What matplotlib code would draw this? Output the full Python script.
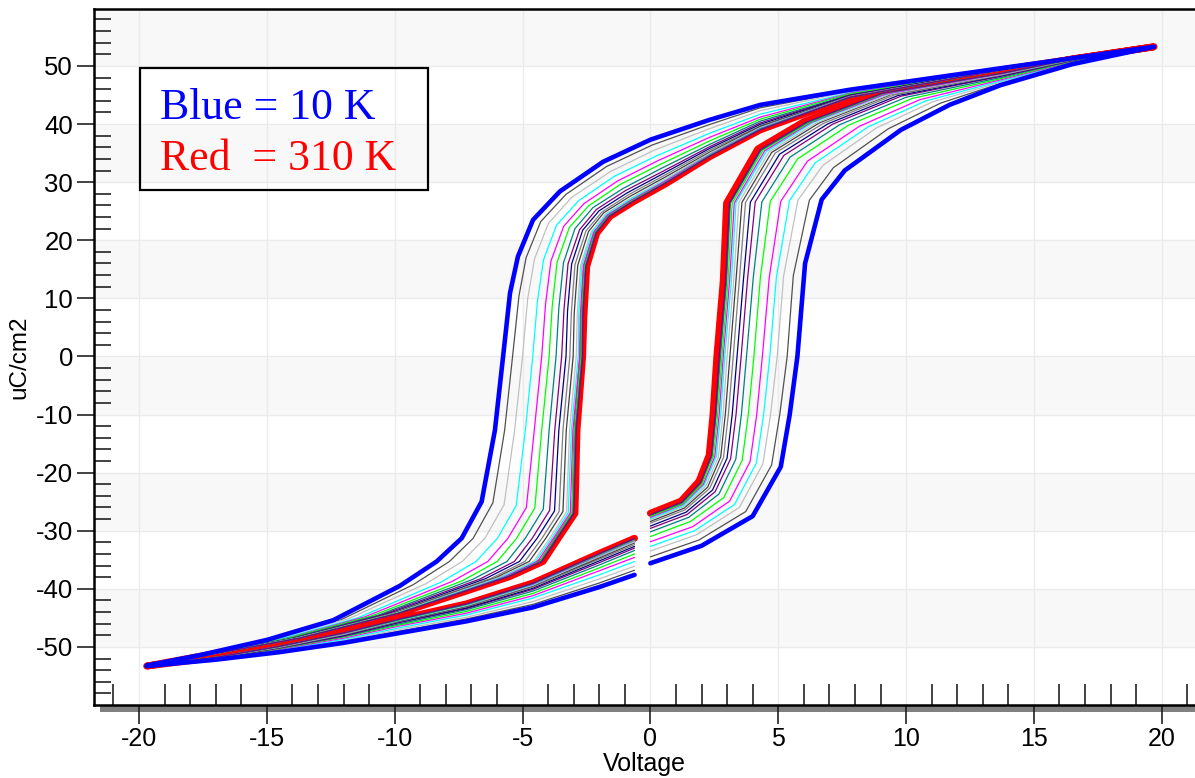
import numpy as np
import matplotlib
matplotlib.use("Agg")
import matplotlib.pyplot as plt
from matplotlib.patches import Rectangle
from matplotlib.ticker import FixedLocator

plt.rcParams['font.family'] = ['Liberation Sans', 'DejaVu Sans']
plt.rcParams['axes.unicode_minus'] = False

# ---- curve styling (blue = 10 K first, red = 310 K last) ----
curve_colors = ['#0000ff', '#505050', '#c0c0c0', '#00ffff', '#ff00ff', '#00ff00',
                '#008080', '#800080', '#000080', '#808080', '#404040', '#c0c0c0',
                '#00ffff', '#ff00ff', '#00ff00', '#008080', '#800080', '#ff0000']

# ---- branch A: from 0 V up to +Vmax (lower right branch) ----
A_V = [
    [0, 2.0, 4.0, 5.1, 5.45, 5.75, 6.05, 6.7, 7.6, 9.8, 11.7, 13.7, 16.5, 19.7],
    [0, 1.90, 3.73, 4.74, 5.06, 5.35, 5.59, 6.22, 7.16, 9.31, 11.35, 13.7, 16.5, 19.7],
    [0, 1.80, 3.48, 4.40, 4.70, 4.96, 5.21, 5.77, 6.75, 8.85, 11.03, 13.7, 16.5, 19.7],
    [0, 1.73, 3.29, 4.15, 4.43, 4.67, 4.93, 5.44, 6.44, 8.51, 10.78, 13.7, 16.5, 19.7],
    [0, 1.66, 3.10, 3.90, 4.16, 4.38, 4.65, 5.10, 6.14, 8.17, 10.54, 13.7, 16.5, 19.7],
    [0, 1.57, 2.87, 3.59, 3.83, 4.05, 4.30, 4.69, 5.76, 7.75, 10.24, 13.7, 16.5, 19.7],
    [0, 1.50, 2.68, 3.34, 3.56, 3.76, 4.02, 4.36, 5.46, 7.41, 10.0, 13.7, 16.5, 19.7],
    [0, 1.44, 2.53, 3.14, 3.35, 3.55, 3.80, 4.10, 5.22, 7.14, 9.81, 13.7, 16.5, 19.7],
    [0, 1.40, 2.43, 3.00, 3.20, 3.39, 3.64, 3.91, 5.05, 6.95, 9.68, 13.7, 16.5, 19.7],
    [0, 1.36, 2.32, 2.86, 3.05, 3.24, 3.48, 3.72, 4.88, 6.76, 9.54, 13.7, 16.5, 19.7],
    [0, 1.33, 2.24, 2.75, 2.93, 3.11, 3.35, 3.58, 4.74, 6.61, 9.43, 13.7, 16.5, 19.7],
    [0, 1.30, 2.17, 2.66, 2.84, 3.00, 3.26, 3.46, 4.64, 6.49, 9.35, 13.7, 16.5, 19.7],
    [0, 1.28, 2.11, 2.58, 2.75, 2.91, 3.17, 3.35, 4.54, 6.38, 9.27, 13.7, 16.5, 19.7],
    [0, 1.26, 2.07, 2.52, 2.69, 2.85, 3.10, 3.28, 4.47, 6.30, 9.22, 13.7, 16.5, 19.7],
    [0, 1.25, 2.03, 2.47, 2.63, 2.80, 3.04, 3.20, 4.40, 6.23, 9.16, 13.7, 16.5, 19.7],
    [0, 1.23, 1.98, 2.41, 2.57, 2.74, 2.98, 3.13, 4.34, 6.15, 9.11, 13.7, 16.5, 19.7],
    [0, 1.22, 1.96, 2.38, 2.54, 2.69, 2.94, 3.09, 4.30, 6.11, 9.08, 13.7, 16.5, 19.7],
    [0, 1.2, 1.9, 2.3, 2.45, 2.6, 2.85, 2.98, 4.2, 6.0, 9.0, 13.7, 16.5, 19.7],
]
A_P = [
    [-35.6, -32.6, -27.5, -19.0, -10, 0, 16.0, 27.0, 32.0, 39.0, 43.3, 46.7, 50.3, 53.3],
    [-34.5, -31.6, -26.7, -18.7, -10, 0, 13.9, 26.9, 32.5, 39.2, 43.6, 47.0, 50.4, 53.4],
    [-33.5, -30.7, -26.0, -18.5, -10, 0, 13.8, 26.9, 32.9, 39.35, 43.8, 47.2, 50.5, 53.5],
    [-32.7, -30.0, -25.5, -18.3, -10, 0, 13.7, 26.8, 33.3, 39.5, 44.0, 47.4, 50.6, 53.5],
    [-31.9, -29.3, -24.9, -18.1, -10, 0, 13.6, 26.7, 33.6, 39.6, 44.2, 47.6, 50.7, 53.5],
    [-31.0, -28.4, -24.3, -17.9, -10, 0, 13.5, 26.7, 34.0, 39.8, 44.4, 47.8, 50.8, 53.5],
    [-30.2, -27.7, -23.7, -17.7, -10, 0, 13.4, 26.6, 34.3, 39.9, 44.6, 48.0, 50.9, 53.5],
    [-29.6, -27.2, -23.3, -17.6, -10, 0, 13.3, 26.6, 34.6, 40.0, 44.8, 48.2, 50.9, 53.5],
    [-29.2, -26.8, -23.0, -17.5, -10, 0, 13.25, 26.55, 34.8, 40.05, 44.9, 48.3, 51.0, 53.5],
    [-28.7, -26.4, -22.7, -17.4, -10, 0, 13.2, 26.5, 35.0, 40.1, 45.0, 48.4, 51.0, 53.5],
    [-28.4, -26.1, -22.5, -17.3, -10, 0, 13.2, 26.5, 35.1, 40.2, 45.1, 48.5, 51.1, 53.4],
    [-28.1, -25.9, -22.3, -17.3, -10, 0, 13.1, 26.5, 35.2, 40.2, 45.1, 48.5, 51.1, 53.4],
    [-27.9, -25.7, -22.1, -17.2, -10, 0, 13.1, 26.5, 35.3, 40.3, 45.2, 48.6, 51.1, 53.4],
    [-27.7, -25.5, -22.0, -17.2, -10, 0, 13.1, 26.4, 35.4, 40.3, 45.2, 48.6, 51.1, 53.4],
    [-27.5, -25.4, -21.9, -17.1, -10, 0, 13.1, 26.4, 35.5, 40.3, 45.3, 48.7, 51.1, 53.4],
    [-27.3, -25.2, -21.7, -17.1, -10, 0, 13.0, 26.4, 35.55, 40.3, 45.3, 48.7, 51.2, 53.4],
    [-27.25, -25.1, -21.7, -17.1, -10, 0, 13.0, 26.4, 35.6, 40.35, 45.3, 48.7, 51.2, 53.4],
    [-27.0, -24.9, -21.5, -17.0, -10, 0, 13.0, 26.4, 35.7, 40.4, 45.4, 48.8, 51.2, 53.3],
]

# ---- branch B: from +Vmax down to -Vmax (upper branch) ----
B_V = [
    [19.7, 13.7, 7.8, 4.3, 2.3, 0.0, -1.85, -3.54, -4.59, -5.18, -5.49, -5.76, -6.08, -6.6, -7.38, -8.36, -9.8, -12.4, -15.0, -17.6, -19.7],
    [19.7, 13.7, 7.8, 4.3, 2.3, 0.08, -1.71, -3.30, -4.29, -4.86, -5.14, -5.39, -5.70, -6.16, -6.93, -7.86, -9.28, -12.09, -14.84, -17.6, -19.7],
    [19.7, 13.7, 7.8, 4.3, 2.31, 0.15, -1.57, -3.07, -3.99, -4.53, -4.80, -5.0, -5.31, -5.72, -6.47, -7.36, -8.77, -11.78, -14.69, -17.6, -19.7],
    [19.7, 13.7, 7.8, 4.3, 2.31, 0.23, -1.41, -2.81, -3.67, -4.18, -4.42, -4.6, -4.89, -5.25, -5.98, -6.82, -8.21, -11.44, -14.52, -17.6, -19.7],
    [19.7, 13.7, 7.8, 4.3, 2.31, 0.30, -1.28, -2.60, -3.39, -3.89, -4.10, -4.25, -4.54, -4.85, -5.57, -6.36, -7.74, -11.15, -14.38, -17.6, -19.7],
    [19.7, 13.7, 7.8, 4.3, 2.32, 0.36, -1.18, -2.42, -3.17, -3.65, -3.84, -3.96, -4.25, -4.52, -5.23, -5.99, -7.35, -10.92, -14.26, -17.6, -19.7],
    [19.7, 13.7, 7.8, 4.3, 2.32, 0.42, -1.07, -2.25, -2.95, -3.40, -3.58, -3.69, -3.96, -4.19, -4.89, -5.61, -6.96, -10.68, -14.14, -17.6, -19.7],
    [19.7, 13.7, 7.8, 4.3, 2.32, 0.46, -0.99, -2.11, -2.77, -3.22, -3.38, -3.47, -3.74, -3.94, -4.62, -5.32, -6.66, -10.5, -14.05, -17.6, -19.7],
    [19.7, 13.7, 7.8, 4.3, 2.32, 0.49, -0.93, -2.01, -2.65, -3.08, -3.24, -3.30, -3.58, -3.75, -4.43, -5.12, -6.45, -10.37, -13.99, -17.6, -19.7],
    [19.7, 13.7, 7.8, 4.3, 2.32, 0.52, -0.87, -1.91, -2.52, -2.95, -3.09, -3.15, -3.42, -3.57, -4.24, -4.91, -6.23, -10.24, -13.92, -17.6, -19.7],
    [19.7, 13.7, 7.8, 4.3, 2.33, 0.55, -0.82, -1.83, -2.42, -2.84, -2.98, -3.02, -3.29, -3.42, -4.09, -4.74, -6.06, -10.14, -13.87, -17.6, -19.7],
    [19.7, 13.7, 7.8, 4.3, 2.33, 0.57, -0.78, -1.76, -2.32, -2.73, -2.86, -2.90, -3.16, -3.28, -3.94, -4.57, -5.89, -10.03, -13.82, -17.6, -19.7],
    [19.7, 13.7, 7.8, 4.3, 2.33, 0.59, -0.75, -1.72, -2.27, -2.68, -2.80, -2.82, -3.09, -3.21, -3.86, -4.49, -5.80, -9.98, -13.79, -17.6, -19.7],
    [19.7, 13.7, 7.8, 4.3, 2.33, 0.60, -0.73, -1.68, -2.22, -2.62, -2.74, -2.76, -3.03, -3.13, -3.79, -4.41, -5.72, -9.93, -13.77, -17.6, -19.7],
    [19.7, 13.7, 7.8, 4.3, 2.33, 0.61, -0.71, -1.64, -2.17, -2.57, -2.69, -2.71, -2.97, -3.06, -3.71, -4.32, -5.63, -9.88, -13.74, -17.6, -19.7],
    [19.7, 13.7, 7.8, 4.3, 2.33, 0.62, -0.69, -1.62, -2.15, -2.54, -2.66, -2.67, -2.93, -3.02, -3.68, -4.28, -5.59, -9.85, -13.73, -17.6, -19.7],
    [19.7, 13.7, 7.8, 4.3, 2.33, 0.62, -0.68, -1.60, -2.12, -2.52, -2.64, -2.65, -2.90, -2.99, -3.64, -4.24, -5.54, -9.83, -13.71, -17.6, -19.7],
    [19.7, 13.7, 7.8, 4.3, 2.33, 0.63, -0.67, -1.58, -2.10, -2.49, -2.60, -2.65, -2.87, -2.95, -3.60, -4.20, -5.50, -9.80, -13.70, -17.6, -19.7],
]
B_P = [
    [53.3, 49.6, 45.9, 43.3, 40.7, 37.3, 33.5, 28.4, 23.5, 17.2, 10.9, 0, -12.7, -25.0, -31.3, -35.3, -39.5, -45.4, -48.8, -51.4, -53.2],
    [53.4, 49.6, 45.7, 42.8, 39.9, 36.4, 32.7, 27.9, 23.2, 17.0, 10.4, 0, -12.7, -25.2, -31.3, -35.3, -39.3, -45.3, -48.8, -51.4, -53.3],
    [53.4, 49.5, 45.6, 42.3, 39.2, 35.5, 31.8, 27.4, 22.9, 16.8, 9.9, 0, -12.7, -25.5, -31.3, -35.3, -39.1, -45.1, -48.7, -51.45, -53.3],
    [53.4, 49.5, 45.4, 41.7, 38.4, 34.5, 31.0, 26.8, 22.6, 16.6, 9.4, 0, -12.7, -25.7, -31.3, -35.3, -38.9, -45.0, -48.7, -51.5, -53.3],
    [53.4, 49.5, 45.3, 41.2, 37.7, 33.7, 30.2, 26.3, 22.4, 16.4, 9.0, 0, -12.7, -26.0, -31.3, -35.3, -38.7, -44.8, -48.7, -51.5, -53.3],
    [53.4, 49.4, 45.2, 40.85, 37.1, 33.0, 29.6, 25.9, 22.2, 16.2, 8.6, 0, -12.7, -26.1, -31.3, -35.3, -38.6, -44.7, -48.6, -51.5, -53.3],
    [53.4, 49.4, 45.0, 40.5, 36.5, 32.35, 28.9, 25.6, 22.0, 16.1, 8.3, 0, -12.7, -26.3, -31.3, -35.3, -38.4, -44.6, -48.6, -51.5, -53.3],
    [53.4, 49.4, 44.95, 40.2, 36.1, 31.8, 28.5, 25.3, 21.8, 15.96, 8.0, 0, -12.7, -26.5, -31.3, -35.3, -38.3, -44.5, -48.6, -51.5, -53.3],
    [53.4, 49.4, 44.9, 39.95, 35.8, 31.45, 28.1, 25.05, 21.7, 15.9, 7.8, 0, -12.7, -26.6, -31.3, -35.3, -38.25, -44.5, -48.6, -51.55, -53.3],
    [53.4, 49.35, 44.8, 39.7, 35.5, 31.1, 27.8, 24.8, 21.6, 15.8, 7.6, 0, -12.7, -26.7, -31.3, -35.3, -38.2, -44.4, -48.55, -51.55, -53.3],
    [53.4, 49.35, 44.8, 39.6, 35.2, 30.8, 27.5, 24.7, 21.5, 15.7, 7.4, 0, -12.7, -26.7, -31.3, -35.3, -38.1, -44.4, -48.5, -51.55, -53.3],
    [53.4, 49.3, 44.7, 39.4, 35.0, 30.5, 27.2, 24.5, 21.4, 15.65, 7.3, 0, -12.7, -26.8, -31.3, -35.3, -38.0, -44.3, -48.5, -51.6, -53.3],
    [53.4, 49.3, 44.7, 39.3, 34.8, 30.3, 27.1, 24.4, 21.4, 15.6, 7.2, 0, -12.7, -26.9, -31.3, -35.3, -38.0, -44.3, -48.5, -51.6, -53.3],
    [53.4, 49.3, 44.7, 39.2, 34.7, 30.2, 26.9, 24.3, 21.3, 15.6, 7.1, 0, -12.7, -26.9, -31.3, -35.3, -38.0, -44.3, -48.5, -51.6, -53.3],
    [53.4, 49.3, 44.6, 39.1, 34.6, 30.0, 26.8, 24.2, 21.3, 15.55, 7.0, 0, -12.7, -26.9, -31.3, -35.3, -38.0, -44.2, -48.5, -51.6, -53.3],
    [53.4, 49.3, 44.6, 39.1, 34.5, 29.95, 26.7, 24.2, 21.25, 15.5, 7.0, 0, -12.7, -27.0, -31.3, -35.3, -37.9, -44.2, -48.5, -51.6, -53.3],
    [53.4, 49.3, 44.6, 39.0, 34.5, 29.9, 26.7, 24.1, 21.2, 15.5, 6.9, 0, -12.7, -27.0, -31.3, -35.3, -37.9, -44.2, -48.5, -51.6, -53.3],
    [53.3, 49.3, 44.6, 39.0, 34.4, 29.8, 26.6, 24.1, 21.2, 15.5, 6.9, 0, -12.7, -27.0, -31.3, -35.3, -37.9, -44.2, -48.5, -51.6, -53.3],
]

# ---- branch C: from -Vmax back up to just below 0 V (lower left branch) ----
C_V = [-19.7, -17.0, -14.5, -12.0, -9.8, -7.2, -4.6, -2.0, -0.62]
C_P = [
    [-53.3, -52.2, -50.9, -49.3, -47.6, -45.6, -43.2, -39.7, -37.6],
    [-53.3, -52.15, -50.8, -49.1, -47.3, -45.2, -42.7, -39.0, -36.8],
    [-53.3, -52.1, -50.7, -48.9, -47.0, -44.9, -42.2, -38.3, -36.1],
    [-53.3, -52.05, -50.5, -48.7, -46.7, -44.5, -41.6, -37.6, -35.3],
    [-53.3, -52.0, -50.4, -48.5, -46.4, -44.2, -41.2, -36.9, -34.6],
    [-53.3, -52.0, -50.3, -48.3, -46.2, -43.9, -40.8, -36.4, -34.0],
    [-53.3, -51.9, -50.2, -48.2, -46.0, -43.6, -40.4, -35.9, -33.4],
    [-53.3, -51.9, -50.2, -48.1, -45.8, -43.4, -40.1, -35.5, -33.0],
    [-53.3, -51.9, -50.1, -48.0, -45.7, -43.3, -39.9, -35.2, -32.7],
    [-53.3, -51.9, -50.1, -47.9, -45.6, -43.1, -39.7, -34.9, -32.4],
    [-53.3, -51.85, -50.0, -47.8, -45.5, -43.0, -39.5, -34.7, -32.1],
    [-53.3, -51.85, -50.0, -47.8, -45.4, -42.9, -39.4, -34.4, -31.9],
    [-53.3, -51.8, -49.95, -47.7, -45.4, -42.8, -39.3, -34.3, -31.7],
    [-53.3, -51.8, -49.9, -47.7, -45.3, -42.7, -39.2, -34.2, -31.6],
    [-53.3, -51.8, -49.9, -47.65, -45.3, -42.7, -39.1, -34.1, -31.5],
    [-53.3, -51.8, -49.9, -47.6, -45.25, -42.65, -39.1, -34.0, -31.4],
    [-53.3, -51.8, -49.9, -47.6, -45.2, -42.6, -39.05, -33.95, -31.35],
    [-53.3, -51.8, -49.9, -47.6, -45.2, -42.6, -39.0, -33.9, -31.3],
]

x_major_ticks = [-20, -15, -10, -5, 0, 5, 10, 15, 20]
y_major_ticks = [-50, -40, -30, -20, -10, 0, 10, 20, 30, 40, 50]
legend_lines = ["Blue = 10 K", "Red  = 310 K"]

# ---------------- figure ----------------
W, H = 1195, 778
fig = plt.figure(figsize=(W / 100, H / 100), dpi=100)
ax = fig.add_axes([94 / W, (H - 705) / H, (W - 94) / W, (705 - 9) / H])
ax.set_xlim(-21.76, 21.3)
ax.set_ylim(-60, 59.8)

# alternating background bands
for lo in [50, 30, 10, -10, -30, -50]:
    ax.axhspan(lo, lo + 10, color='#f8f8f8', zorder=0, lw=0)

ax.set_axisbelow(True)
ax.grid(True, which='major', color='#ebebeb', lw=1.0)

n = len(curve_colors)
order = [n - 1] + list(range(1, n - 1)) + [0]
for i in order:
    v = np.concatenate([A_V[i], B_V[i], C_V])
    p = np.concatenate([A_P[i], B_P[i], C_P[i]])
    if i == 0:
        lw, z = 3.3, 5
    elif i == n - 1:
        lw, z = 5.0, 3
    else:
        lw, z = 0.9, 4
    ax.plot(v, p, color=curve_colors[i], lw=lw, zorder=z,
            solid_capstyle='round', solid_joinstyle='round')

# ticks
ax.set_xticks(x_major_ticks)
ax.set_yticks(y_major_ticks)
ax.xaxis.set_minor_locator(FixedLocator([t for t in range(-21, 22) if t % 5 != 0]))
ax.yaxis.set_minor_locator(FixedLocator([t for t in range(-58, 60, 2) if t % 10 != 0]))
ax.tick_params(axis='x', which='major', direction='out', length=14, width=1.2,
               labelsize=18, pad=1.5, color='#222222')
ax.tick_params(axis='x', which='minor', direction='in', length=15, width=1.2, color='#222222')
ax.tick_params(axis='y', which='major', direction='out', length=12, width=1.2,
               labelsize=18.5, pad=3, color='#222222')
ax.tick_params(axis='y', which='minor', direction='in', length=12, width=1.2, color='#222222')

for s in ['left', 'top', 'bottom']:
    ax.spines[s].set_linewidth(1.8)
    ax.spines[s].set_color('black')
ax.spines['right'].set_visible(False)

ax.set_xlabel('Voltage', fontsize=18)
ax.xaxis.set_label_coords(0.5, -(752 - 705) / 696)
ax.set_ylabel('uC/cm2', fontsize=17.5, labelpad=4)

# gray shadow under the x axis
fig.add_artist(Rectangle((100 / W, (H - 712) / H), 1 - 100 / W, 6.5 / H,
                         transform=fig.transFigure, color='#808080', zorder=-1, lw=0))

# legend box
ax.add_patch(Rectangle((0.0418, 0.740), 0.2616, 0.175, transform=ax.transAxes,
                       fill=False, edgecolor='black', lw=1.6, zorder=6))
ax.text(0.060, 0.842, legend_lines[0], transform=ax.transAxes, color='#0000ff',
        fontsize=31.5, family=['Liberation Serif', 'DejaVu Serif'], zorder=7)
ax.text(0.060, 0.769, legend_lines[1], transform=ax.transAxes, color='#ff0000',
        fontsize=31.5, family=['Liberation Serif', 'DejaVu Serif'], zorder=7)

fig.savefig('out.png', dpi=100)
